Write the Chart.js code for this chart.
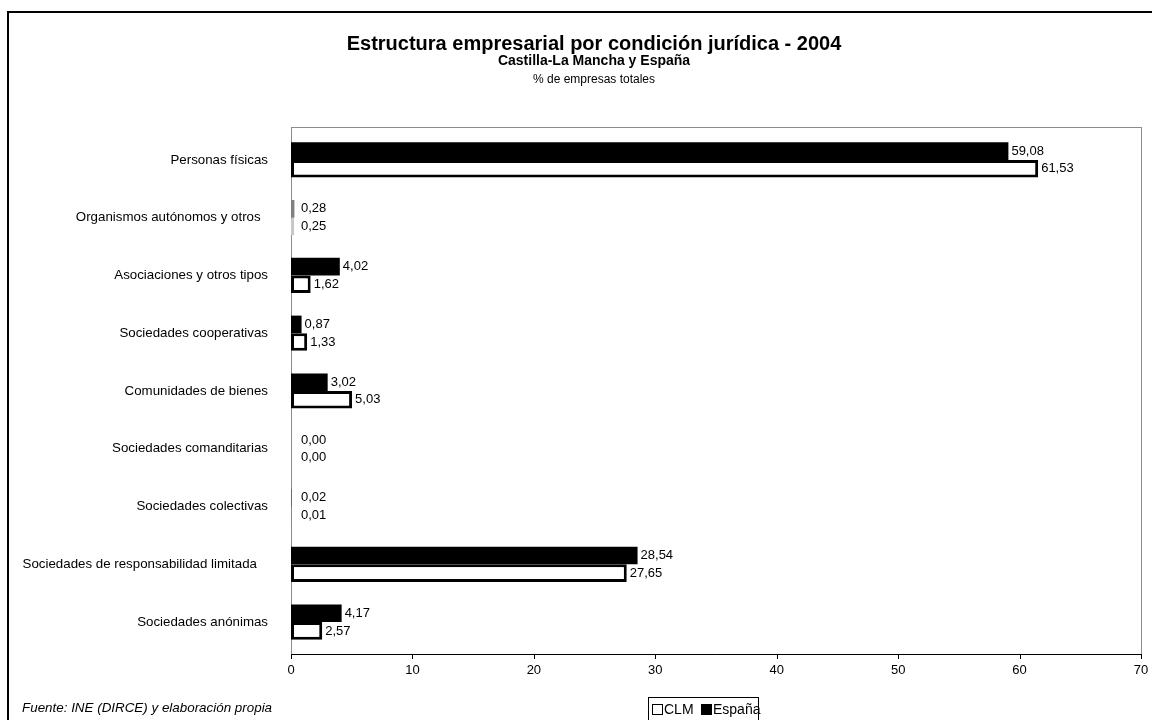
<!DOCTYPE html>
<html>
<head>
<meta charset="utf-8">
<script src="https://cdn.jsdelivr.net/npm/chart.js@4/dist/chart.umd.min.js"></script>
<style>
  html, body { margin: 0; padding: 0; background: #fff; }
  #wrap { width: 1152px; height: 720px; position: relative; }
</style>
</head>
<body>
<div id="wrap"><canvas id="chart-empresas"></canvas></div>
<script>
const categories = [
  "Personas físicas",
  "Organismos autónomos y otros  ",
  "Asociaciones y otros tipos",
  "Sociedades cooperativas",
  "Comunidades de bienes",
  "Sociedades comanditarias",
  "Sociedades colectivas",
  "Sociedades de responsabilidad limitada   ",
  "Sociedades anónimas",
];
const espana = [59.08, 0.28, 4.02, 0.87, 3.02, 0.0, 0.02, 28.54, 4.17];
const clm = [61.53, 0.25, 1.62, 1.33, 5.03, 0.0, 0.01, 27.65, 2.57];
const xTicks = [0, 10, 20, 30, 40, 50, 60, 70];

const FONT = "'Liberation Sans', Arial, sans-serif";

const fmt = (v) => v.toFixed(2).replace(".", ",");

// tiny bars in the "Organismos" row show up grey in the original
const espanaColors = espana.map((v, i) => (i === 1 ? "#7f7f7f" : "#000000"));
const clmFill = clm.map((v, i) => (i === 1 ? "#c8c8c8" : "#ffffff"));
const clmBorder = clm.map((v, i) => (i === 1 ? 0 : 3));

const decorations = {
  id: "decorations",
  beforeDraw: (chart) => {
    const { ctx, chartArea } = chart;
    const top = chartArea.top - 4;
    const axisY = chartArea.bottom + 3;
    ctx.save();
    ctx.fillStyle = "#fff";
    ctx.fillRect(0, 0, chart.width, chart.height);
    ctx.strokeStyle = "#000";
    ctx.lineWidth = 2;
    ctx.strokeRect(8, 12, 1160, 730);
    // plot frame
    ctx.strokeStyle = "#8c8c8c";
    ctx.lineWidth = 1;
    ctx.strokeRect(chartArea.left + 0.5, top + 0.5,
      chartArea.right - chartArea.left, axisY - top);
    // x axis line and tick marks
    ctx.strokeStyle = "#000";
    ctx.beginPath();
    ctx.moveTo(chartArea.left, axisY + 0.5);
    ctx.lineTo(chartArea.right + 1, axisY + 0.5);
    const xs = chart.scales.x;
    xTicks.forEach((v) => {
      const px = Math.round(xs.getPixelForValue(v)) + 0.5;
      ctx.moveTo(px, axisY);
      ctx.lineTo(px, axisY + 5);
    });
    ctx.stroke();
    ctx.restore();
  },
  afterDraw: (chart) => {
    const { ctx, chartArea } = chart;
    ctx.save();
    ctx.fillStyle = "#000";
    ctx.textAlign = "center";
    ctx.textBaseline = "middle";
    const cx = 594;
    ctx.font = "bold 20px " + FONT;
    ctx.fillText("Estructura empresarial por condición jurídica - 2004", cx, 44);
    ctx.font = "bold 14px " + FONT;
    ctx.fillText("Castilla-La Mancha y España", cx, 61);
    ctx.font = "12px " + FONT;
    ctx.fillText("% de empresas totales", cx, 80);

    // value labels
    ctx.font = "13px " + FONT;
    ctx.textAlign = "left";
    chart.data.datasets.forEach((ds, di) => {
      const meta = chart.getDatasetMeta(di);
      meta.data.forEach((el, i) => {
        const x = Math.max(el.x, chartArea.left + 7) + 3;
        ctx.fillText(fmt(ds.data[i]), x, el.y);
      });
    });

    // footer
    ctx.font = "italic 13.4px " + FONT;
    ctx.fillText("Fuente: INE (DIRCE) y elaboración propia", 22, 708);

    // legend box
    ctx.strokeStyle = "#000";
    ctx.lineWidth = 1;
    ctx.strokeRect(648.5, 697.5, 110, 30);
    ctx.strokeRect(652.5, 704.5, 10, 10);
    ctx.fillRect(701, 704, 11, 11);
    ctx.font = "14px " + FONT;
    ctx.fillText("CLM", 664, 710);
    ctx.fillText("España", 713, 710);
    ctx.restore();
  },
};

const config = {
  type: "bar",
  data: {
    labels: categories,
    datasets: [
      {
        label: "España",
        data: espana,
        backgroundColor: espanaColors,
        borderWidth: 0,
        categoryPercentage: 0.61,
        barPercentage: 1.0,
      },
      {
        label: "CLM",
        data: clm,
        backgroundColor: clmFill,
        borderColor: "#000",
        borderWidth: clmBorder,
        borderSkipped: false,
        categoryPercentage: 0.61,
        barPercentage: 1.0,
      },
    ],
  },
  options: {
    indexAxis: "y",
    responsive: false,
    animation: false,
    layout: { padding: { left: 8, right: 11, top: 131, bottom: 39 } },
    plugins: {
      legend: { display: false },
      tooltip: { enabled: false },
    },
    scales: {
      x: {
        min: 0,
        max: 70,
        afterBuildTicks: (scale) => {
          scale.ticks = xTicks.map((v) => ({ value: v }));
        },
        afterFit: (scale) => {
          scale.height = 30;
          scale.paddingLeft = 0;
          scale.paddingRight = 0;
        },
        grid: { display: false, drawTicks: false },
        border: { display: false },
        ticks: { color: "#000", font: { family: FONT, size: 13 }, padding: 12 },
      },
      y: {
        afterFit: (scale) => {
          scale.width = 283;
          scale.paddingTop = 0;
          scale.paddingBottom = 0;
        },
        grid: { display: false, drawTicks: false },
        border: { display: false },
        ticks: { color: "#000", font: { family: FONT, size: 13.3 }, padding: 23 },
      },
    },
  },
  plugins: [decorations],
};

const canvas = document.querySelector("#chart-empresas");
canvas.width = 1152;
canvas.height = 720;
new Chart(canvas, config);
</script>
</body>
</html>
